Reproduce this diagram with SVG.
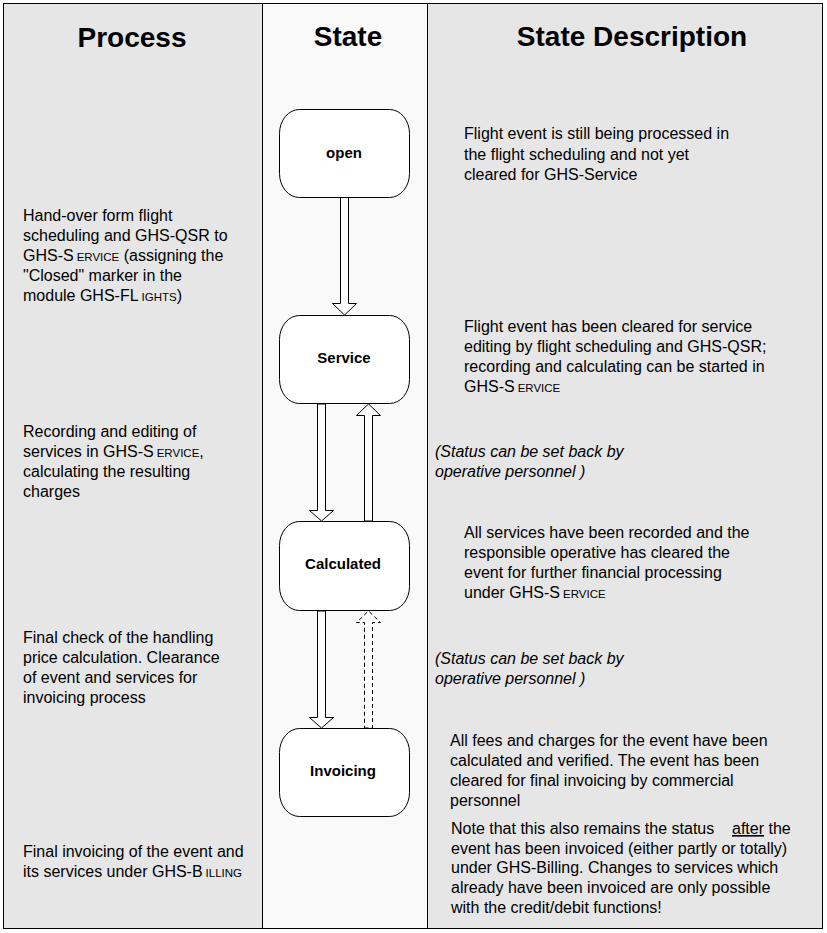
<svg xmlns="http://www.w3.org/2000/svg" width="827" height="933" viewBox="0 0 827 933">
<defs>
<style>
.bg{fill:#e6e6e6}
.bgs{fill:#f9f9f9}
.ln{stroke:#000;stroke-width:1;fill:none}
.hd{font-family:"Liberation Sans",Arial,sans-serif;font-size:28px;font-weight:bold;fill:#000;text-anchor:middle}
.t{font-family:"Liberation Sans",Arial,sans-serif;font-size:16px;fill:#000}
.it{font-style:italic}
.sc{font-size:11.5px}
.box{fill:#fff;stroke:#000;stroke-width:1}
.lbl{font-family:"Liberation Sans",Arial,sans-serif;font-size:15px;font-weight:bold;fill:#000;text-anchor:middle}
.arr{fill:#fff;stroke:#000;stroke-width:1}
.dash{stroke-dasharray:4,3}
</style>
</defs>
<rect x="0" y="0" width="827" height="933" fill="#fff"/>
<g id="columns">
<rect class="bg" x="3.5" y="3.5" width="259" height="925"/>
<rect class="bgs" x="262.5" y="3.5" width="165" height="925"/>
<rect class="bg" x="427.5" y="3.5" width="395" height="925"/>
<rect class="ln" x="3.5" y="3.5" width="819" height="925"/>
<line class="ln" x1="262.5" y1="3.5" x2="262.5" y2="928.5"/>
<line class="ln" x1="427.5" y1="3.5" x2="427.5" y2="928.5"/>
</g>
<g id="headers">
<text class="hd" x="132" y="47">Process</text>
<text class="hd" x="348" y="46">State</text>
<text class="hd" x="632" y="46">State Description</text>
</g>
<g id="connectors">
<polygon class="arr" points="340.5,197.5 348.5,197.5 348.5,303.5 356.5,303.5 344.5,315 332.5,303.5 340.5,303.5"/>
<polygon class="arr" points="317.5,404 325.5,404 325.5,510.5 333.5,510.5 321.5,521 309.5,510.5 317.5,510.5"/>
<polygon class="arr" points="364.5,521 372.5,521 372.5,415.5 380.5,415.5 368.5,404 356.5,415.5 364.5,415.5"/>
<polygon class="arr" points="317.5,611 325.5,611 325.5,717.5 333.5,717.5 321.5,728 309.5,717.5 317.5,717.5"/>
<polygon class="arr dash" points="364.5,728 372.5,728 372.5,622.5 380.5,622.5 368.5,611 356.5,622.5 364.5,622.5"/>
</g>
<g id="open">
<rect class="box" x="279.5" y="109.5" width="130" height="88" rx="20" ry="24"/>
<text class="lbl" x="344" y="158">open</text>
</g>
<g id="service">
<rect class="box" x="279.5" y="315.5" width="130" height="88" rx="20" ry="24"/>
<text class="lbl" x="344" y="363">Service</text>
</g>
<g id="calculated">
<rect class="box" x="279.5" y="521.5" width="130" height="89" rx="20" ry="24"/>
<text class="lbl" x="343" y="569">Calculated</text>
</g>
<g id="invoicing">
<rect class="box" x="279.5" y="728.5" width="130" height="88" rx="20" ry="24"/>
<text class="lbl" x="343" y="776">Invoicing</text>
</g>
<g id="process-texts">
<text class="t" x="23" y="221">Hand-over form flight</text>
<text class="t" x="23" y="241">scheduling and GHS-QSR to</text>
<text class="t" x="23" y="261">GHS-S<tspan class="sc" dx="3">ERVICE</tspan> (assigning the</text>
<text class="t" x="23" y="281">"Closed" marker in the</text>
<text class="t" x="23" y="301">module GHS-FL<tspan class="sc" dx="3">IGHTS</tspan>)</text>
<text class="t" x="23" y="437">Recording and editing of</text>
<text class="t" x="23" y="457">services in GHS-S<tspan class="sc" dx="3">ERVICE</tspan>,</text>
<text class="t" x="23" y="477">calculating the resulting</text>
<text class="t" x="23" y="497">charges</text>
<text class="t" x="23" y="643">Final check of the handling</text>
<text class="t" x="23" y="663">price calculation. Clearance</text>
<text class="t" x="23" y="683">of event and services for</text>
<text class="t" x="23" y="703">invoicing process</text>
<text class="t" x="23" y="857">Final invoicing of the event and</text>
<text class="t" x="23" y="877">its services under GHS-B<tspan class="sc" dx="3">ILLING</tspan></text>
</g>
<g id="description-texts">
<text class="t" x="464" y="139">Flight event is still being processed in</text>
<text class="t" x="464" y="160">the flight scheduling and not yet</text>
<text class="t" x="464" y="180">cleared for GHS-Service</text>
<text class="t" x="464" y="332">Flight event has been cleared for service</text>
<text class="t" x="464" y="352">editing by flight scheduling and GHS-QSR;</text>
<text class="t" x="464" y="372">recording and calculating can be started in</text>
<text class="t" x="464" y="392">GHS-S<tspan class="sc" dx="3">ERVICE</tspan></text>
<text class="t it" x="435" y="457">(Status can be set back by</text>
<text class="t it" x="435" y="477">operative personnel )</text>
<text class="t" x="464" y="538">All services have been recorded and the</text>
<text class="t" x="464" y="558">responsible operative has cleared the</text>
<text class="t" x="464" y="578">event for further financial processing</text>
<text class="t" x="464" y="598">under GHS-S<tspan class="sc" dx="3">ERVICE</tspan></text>
<text class="t it" x="435" y="664">(Status can be set back by</text>
<text class="t it" x="435" y="684">operative personnel )</text>
<text class="t" x="450" y="746">All fees and charges for the event have been</text>
<text class="t" x="450" y="766">calculated and verified. The event has been</text>
<text class="t" x="450" y="786">cleared for final invoicing by commercial</text>
<text class="t" x="450" y="806">personnel</text>
<text class="t" x="451" y="834">Note that this also remains the status <tspan x="732" text-decoration="underline">after</tspan> the</text>
<text class="t" x="451" y="854">event has been invoiced (either partly or totally)</text>
<text class="t" x="451" y="873">under GHS-Billing. Changes to services which</text>
<text class="t" x="451" y="893">already have been invoiced are only possible</text>
<text class="t" x="451" y="913">with the credit/debit functions!</text>
</g>
</svg>
